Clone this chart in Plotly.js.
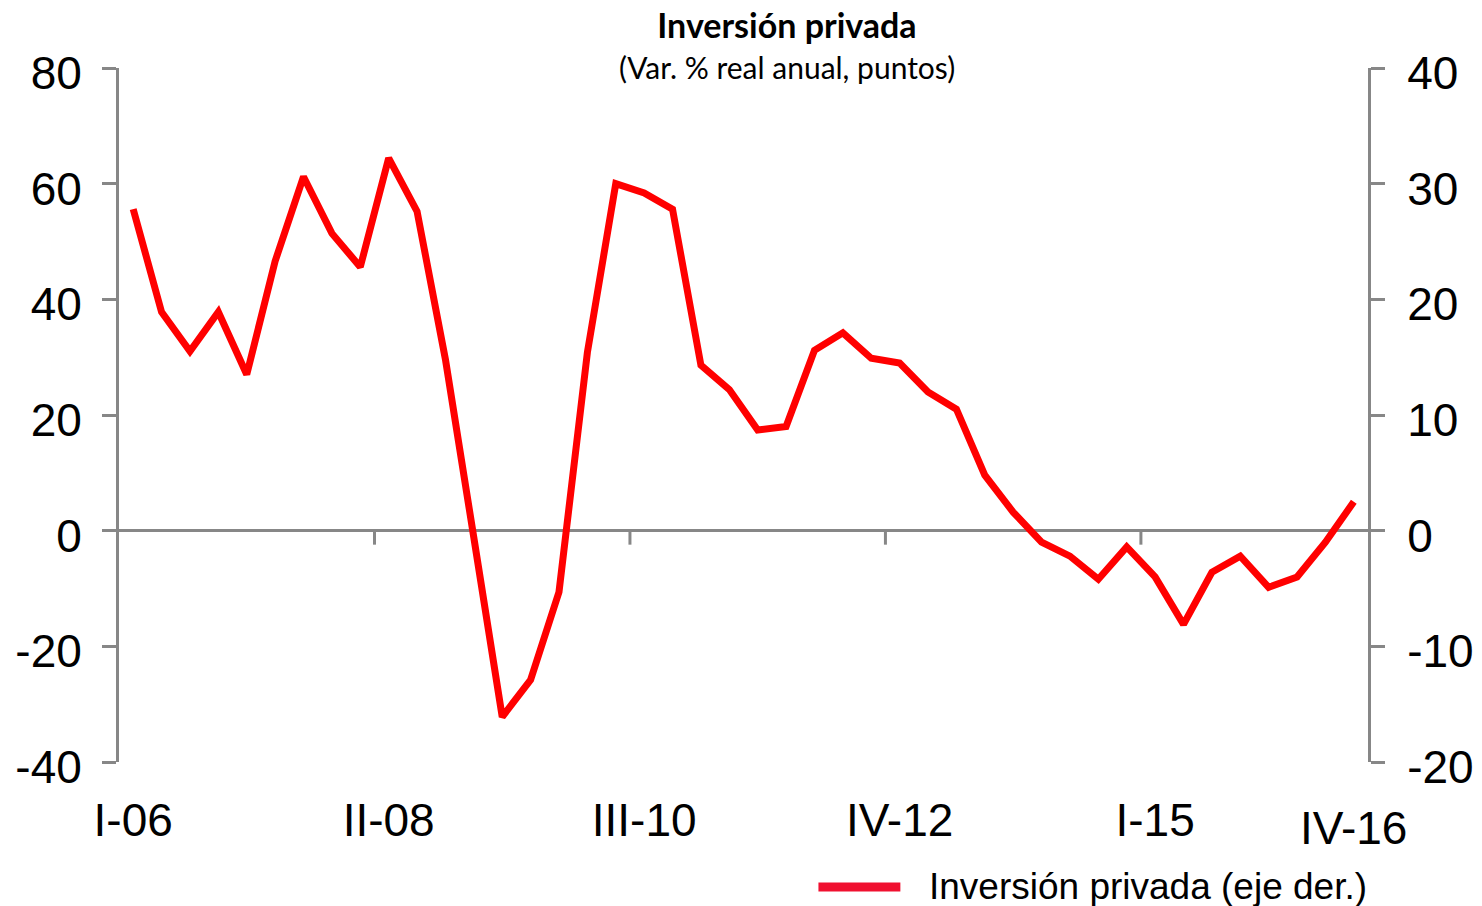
<!DOCTYPE html>
<html>
<head>
<meta charset="utf-8">
<script src="https://cdn.plot.ly/plotly-3.0.1.min.js"></script>
<style>html,body{margin:0;padding:0;background:#fff;}#chart{width:1482px;height:906px;}</style>
</head>
<body>
<div id="chart"></div>
<script>
const quarters = ['I-06','II-06','III-06','IV-06','I-07','II-07','III-07','IV-07',
  'I-08','II-08','III-08','IV-08','I-09','II-09','III-09','IV-09',
  'I-10','II-10','III-10','IV-10','I-11','II-11','III-11','IV-11',
  'I-12','II-12','III-12','IV-12','I-13','II-13','III-13','IV-13',
  'I-14','II-14','III-14','IV-14','I-15','II-15','III-15','IV-15',
  'I-16','II-16','III-16','IV-16'];
const inversionPrivada = [27.8,18.9,15.5,18.9,13.5,23.3,30.6,25.7,
  22.8,32.2,27.6,14.8,-0.6,-16.1,-12.9,-5.3,
  15.4,30.0,29.2,27.8,14.3,12.2,8.7,9.0,
  15.6,17.1,14.9,14.5,12.0,10.5,4.8,1.6,
  -1.0,-2.2,-4.2,-1.4,-4.0,-8.1,-3.6,-2.2,
  -4.9,-4.0,-1.0,2.5];
const xTickLabels = ['I-06','II-08','III-10','IV-12','I-15'];
const lastTickLabel = 'IV-16';
const leftTickVals = [-40,-20,0,20,40,60,80];
const leftTickText = ['-40','-20','0','20','40','60','80'];
const rightTickVals = [-20,-10,0,10,20,30,40];
const rightTickText = ['-20','-10','0','10','20','30','40'];
const seriesName = 'Inversión privada (eje der.)';
const titleText = 'Inversión privada';
const subtitleText = '(Var. % real anual, puntos)';

const axisGray = '#878787';
const tickFont = {family: 'Liberation Sans, Arial, sans-serif', size: 46, color: '#000'};

// tick marks on the zero line, at the category boundaries before each labelled quarter
const boundaryShapes = xTickLabels.slice(1).map(lbl => ({
  type: 'line', xref: 'x', yref: 'y',
  x0: quarters.indexOf(lbl) - 0.5, x1: quarters.indexOf(lbl) - 0.5,
  ysizemode: 'pixel', yanchor: 0, y0: 0, y1: -14,
  line: {color: axisGray, width: 3}, layer: 'below'
}));

const traces = [
  {x: quarters, y: inversionPrivada, type: 'scatter', mode: 'lines', name: seriesName,
   yaxis: 'y2', line: {color: '#ff0000', width: 7}, showlegend: false, hoverinfo: 'skip'}
];

const layout = {
  width: 1482, height: 906,
  margin: {l: 119, r: 114, t: 68, b: 144, pad: 0},
  paper_bgcolor: '#fff', plot_bgcolor: '#fff',
  showlegend: false,
  title: {
    text: '<b>' + titleText + '</b>',
    font: {family: 'Lato, sans-serif', size: 34, color: '#000'},
    x: 0.5348, xanchor: 'center', xref: 'paper',
    y: 0.971, yanchor: 'middle', yref: 'container'
  },
  xaxis: {
    type: 'category', range: [-0.5, 43.5], showline: false, showgrid: false, zeroline: false,
    ticks: '', tickmode: 'array', tickvals: xTickLabels, ticktext: xTickLabels,
    tickfont: tickFont, ticklabelstandoff: 27, fixedrange: true
  },
  yaxis: {
    range: [-40, 80], tickmode: 'array', tickvals: leftTickVals, ticktext: leftTickText,
    showline: true, linecolor: axisGray, linewidth: 3,
    ticks: 'outside', ticklen: 14, tickwidth: 3, tickcolor: axisGray,
    showgrid: false, zeroline: true, zerolinecolor: axisGray, zerolinewidth: 3,
    tickfont: tickFont, ticklabelstandoff: 11, ticklabelshift: 5
  },
  yaxis2: {
    overlaying: 'y', side: 'right', anchor: 'x',
    range: [-20, 40], tickmode: 'array', tickvals: rightTickVals, ticktext: rightTickText,
    showline: true, linecolor: axisGray, linewidth: 3,
    ticks: 'outside', ticklen: 14, tickwidth: 3, tickcolor: axisGray,
    showgrid: false, zeroline: false, tickfont: tickFont, ticklabelstandoff: 13, ticklabelshift: 5
  },
  shapes: boundaryShapes.concat([
    {type: 'line', xref: 'paper', yref: 'paper', x0: 0.56, x1: 0.6256, y0: -0.18, y1: -0.18,
     line: {color: '#f01030', width: 9}}
  ]),
  annotations: [
    {text: subtitleText, xref: 'paper', x: 0.535, xanchor: 'center', yref: 'paper', y: 1.0014,
     yanchor: 'middle', showarrow: false,
     font: {family: 'Lato, sans-serif', size: 30, color: '#000'}},
    {text: lastTickLabel, xref: 'x', x: quarters[43], yref: 'paper', y: -0.095, yanchor: 'middle',
     xanchor: 'center', showarrow: false, font: tickFont},
    {text: seriesName, xref: 'paper', x: 0.647, xanchor: 'left', yref: 'paper', y: -0.18,
     yanchor: 'middle', showarrow: false,
     font: {family: 'Liberation Sans, Arial, sans-serif', size: 37, color: '#000'}}
  ]
};

Plotly.newPlot('chart', traces, layout, {displayModeBar: false, staticPlot: true});
</script>
</body>
</html>
